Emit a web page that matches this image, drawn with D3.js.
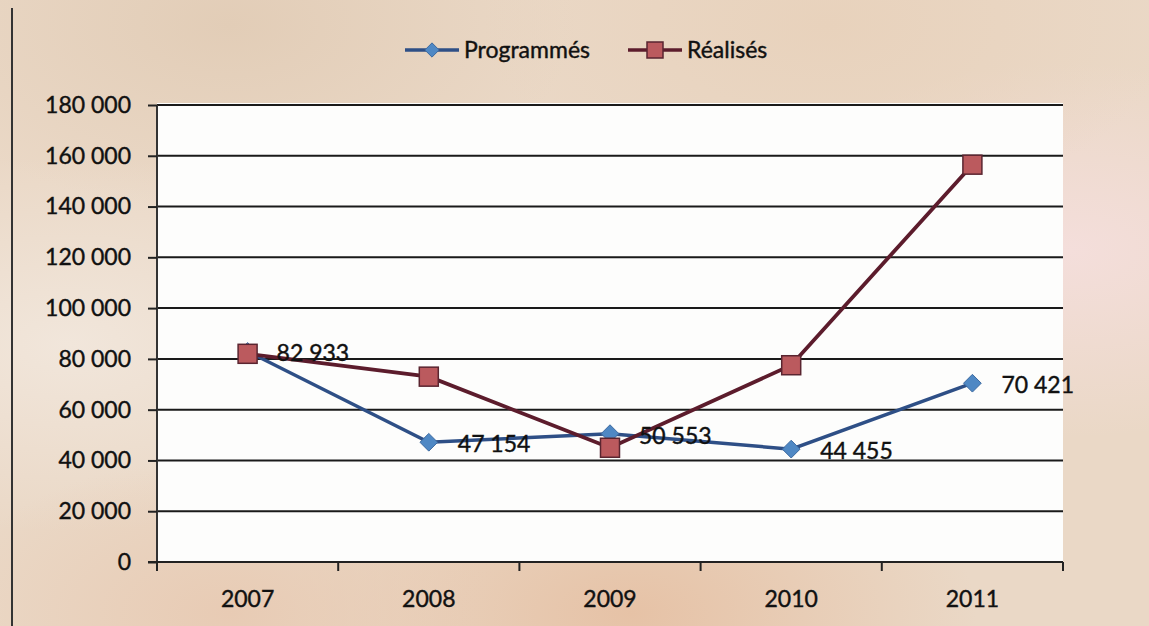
<!DOCTYPE html>
<html>
<head>
<meta charset="utf-8">
<script src="https://cdn.jsdelivr.net/npm/d3@7"></script>
<style>
  html, body { margin: 0; padding: 0; background: #e8d4c0; }
  svg { display: block; }
  text { font-family: Lato, "Open Sans", sans-serif; fill: #111; stroke: #111; stroke-width: 0.4px; }
</style>
</head>
<body>
<svg id="chart" width="1149" height="626"></svg>
<script>
// Years on the category axis
const years = ["2007", "2008", "2009", "2010", "2011"];
// Scheduled (programmés) and achieved (réalisés) totals per year
const programmes = [82933, 47154, 50553, 44455, 70421];
const realises = [82000, 73000, 45000, 77500, 156500];
// Value axis ticks
const yTicks = [0, 20000, 40000, 60000, 80000, 100000, 120000, 140000, 160000, 180000];
const seriesNames = ["Programmés", "Réalisés"];

const W = 1149, H = 626;
const plot = { left: 157, right: 1063, top: 105, bottom: 562 };
const FS = 23;

const svg = d3.select("#chart");
const defs = svg.append("defs");

// Paper-like background tones
const bgSpots = [
  { id: "g1", cx: 0.93, cy: 0.4, r: 0.3, c: "#f4dedb" },
  { id: "g2", cx: 0.55, cy: 0.98, r: 0.3, c: "#e6c2a6" },
  { id: "g3", cx: 0.2, cy: 0.04, r: 0.3, c: "#e2cdb7" },
  { id: "g4", cx: 0.72, cy: 0.04, r: 0.3, c: "#e8d2bc" },
  { id: "g5", cx: 0.06, cy: 0.55, r: 0.3, c: "#f1e6db" },
  { id: "g6", cx: 0.2, cy: 0.98, r: 0.25, c: "#e8cbb4" }
];
svg.append("rect").attr("width", W).attr("height", H).attr("fill", "#ead8c6");
bgSpots.forEach(s => {
  const g = defs.append("radialGradient").attr("id", s.id)
    .attr("cx", s.cx).attr("cy", s.cy).attr("r", s.r);
  g.append("stop").attr("offset", "0%").attr("stop-color", s.c).attr("stop-opacity", 1);
  g.append("stop").attr("offset", "100%").attr("stop-color", s.c).attr("stop-opacity", 0);
  svg.append("rect").attr("width", W).attr("height", H).attr("fill", `url(#${s.id})`);
});

// Frame edge on the left
svg.append("line").attr("x1", 12).attr("x2", 12).attr("y1", 8).attr("y2", H)
  .attr("stroke", "#333").attr("stroke-width", 2);

// Plot area
svg.append("rect")
  .attr("x", plot.left).attr("y", plot.top - 2)
  .attr("width", plot.right - plot.left).attr("height", plot.bottom - plot.top + 2)
  .attr("fill", "#fdfdfc");

const x = d3.scaleBand().domain(years).range([plot.left, plot.right]).padding(0);
const y = d3.scaleLinear().domain([0, 180000]).range([plot.bottom, plot.top]);
const fmt = v => d3.format(",")(v).replace(/,/g, " ");

// Gridlines
svg.append("g").selectAll("line").data(yTicks.filter(d => d > 0)).join("line")
  .attr("x1", plot.left).attr("x2", plot.right)
  .attr("y1", d => y(d)).attr("y2", d => y(d))
  .attr("stroke", "#1a1a1a").attr("stroke-width", 2);

// Value axis
const yAxis = svg.append("g").attr("transform", `translate(${plot.left},0)`)
  .call(d3.axisLeft(y).tickValues(yTicks).tickFormat(fmt).tickSize(9).tickPadding(17));
yAxis.select(".domain").attr("stroke", "#333").attr("stroke-width", 2)
  .attr("d", `M0,${plot.top}V${plot.bottom + 5}`);
yAxis.selectAll(".tick line").attr("stroke", "#222").attr("stroke-width", 2);
yAxis.selectAll(".tick text").attr("font-size", FS).attr("fill", "#111")
  .attr("font-family", "Lato, sans-serif");

// Category axis
const xAxis = svg.append("g").attr("transform", `translate(0,${plot.bottom})`)
  .call(d3.axisBottom(x).tickSize(0).tickPadding(29));
xAxis.select(".domain").attr("stroke", "#222").attr("stroke-width", 2)
  .attr("d", `M${plot.left - 9},0H${plot.right}`);
xAxis.selectAll(".tick text").attr("font-size", FS).attr("fill", "#111")
  .attr("font-family", "Lato, sans-serif");
// Boundary ticks between categories
const bounds = years.map(d => x(d)).concat([x(years[years.length - 1]) + x.bandwidth()]);
svg.append("g").selectAll("line").data(bounds).join("line")
  .attr("x1", d => d).attr("x2", d => d)
  .attr("y1", plot.bottom).attr("y2", plot.bottom + 9)
  .attr("stroke", "#222").attr("stroke-width", 2);

const cx = d => x(d) + x.bandwidth() / 2;
const line = d3.line().x(d => cx(d.year)).y(d => y(d.v));

const progData = years.map((yr, i) => ({ year: yr, v: programmes[i] }));
const realData = years.map((yr, i) => ({ year: yr, v: realises[i] }));

const blueLine = "#2e4f86", blueFill = "#4f88c4";
const redLine = "#5c1c2c", redFill = "#bb5a5e";

// Programmés series
svg.append("path").datum(progData).attr("d", line)
  .attr("fill", "none").attr("stroke", blueLine).attr("stroke-width", 3.5);
const diamond = d3.symbol().type(d3.symbolDiamond2).size(200);
svg.append("g").selectAll("path").data(progData).join("path")
  .attr("d", diamond)
  .attr("transform", d => `translate(${cx(d.year)},${y(d.v)})`)
  .attr("fill", blueFill).attr("stroke", "#3d6aa0").attr("stroke-width", 1);

// Réalisés series
svg.append("path").datum(realData).attr("d", line)
  .attr("fill", "none").attr("stroke", redLine).attr("stroke-width", 3.8);
const sq = 19;
svg.append("g").selectAll("rect").data(realData).join("rect")
  .attr("x", d => cx(d.year) - sq / 2).attr("y", d => y(d.v) - sq / 2)
  .attr("width", sq).attr("height", sq)
  .attr("fill", redFill).attr("stroke", "#5a2530").attr("stroke-width", 1.5);

// Data labels for Programmés
svg.append("g").selectAll("text").data(progData).join("text")
  .attr("x", d => cx(d.year) + 29).attr("y", d => y(d.v) + 2)
  .attr("dy", "0.35em").attr("font-size", FS)
  .text(d => fmt(d.v));

// Legend
const lg = svg.append("g");
const legendItems = [
  { name: seriesNames[0], x0: 405, stroke: blueLine, fill: blueFill, kind: "diamond" },
  { name: seriesNames[1], x0: 628, stroke: redLine, fill: redFill, kind: "square" }
];
legendItems.forEach(it => {
  const ly = 50;
  lg.append("line").attr("x1", it.x0).attr("x2", it.x0 + 54).attr("y1", ly).attr("y2", ly)
    .attr("stroke", it.stroke).attr("stroke-width", 3.5);
  if (it.kind === "diamond") {
    lg.append("path").attr("d", d3.symbol().type(d3.symbolDiamond2).size(130))
      .attr("transform", `translate(${it.x0 + 27},${ly})`)
      .attr("fill", it.fill).attr("stroke", "#3d6aa0");
  } else {
    lg.append("rect").attr("x", it.x0 + 27 - 8).attr("y", ly - 8)
      .attr("width", 16).attr("height", 16)
      .attr("fill", it.fill).attr("stroke", "#5a2530").attr("stroke-width", 1.5);
  }
  lg.append("text").attr("x", it.x0 + 59).attr("y", ly).attr("dy", "0.35em")
    .attr("font-size", FS).text(it.name);
});
</script>
</body>
</html>
